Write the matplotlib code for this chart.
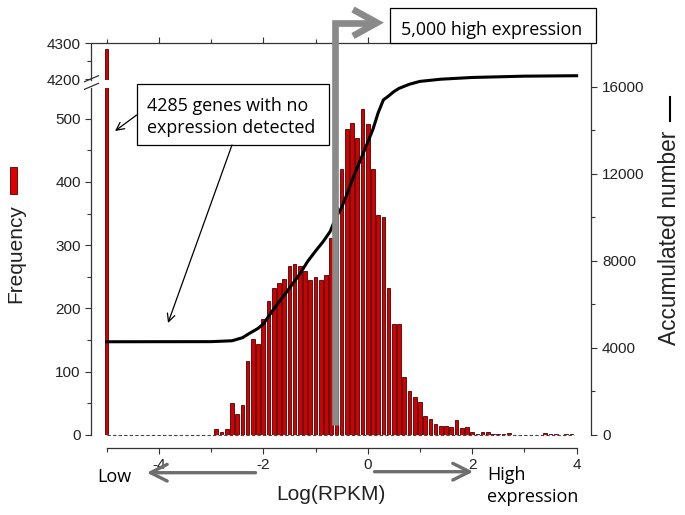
import numpy as np
import matplotlib
matplotlib.use('Agg')
import matplotlib.pyplot as plt
from matplotlib.lines import Line2D
from matplotlib.patches import Rectangle, FancyArrowPatch

plt.rcParams['font.family'] = 'Liberation Sans'
plt.rcParams['axes.unicode_minus'] = False

# histogram of log(RPKM), 0.1 wide bins from -2.9 to 3.9
bin_centers = np.round(np.arange(-2.9, 3.95, 0.1), 1)
freq = [9, 5, 10, 51, 33, 47, 117, 151, 144, 183,
        212, 233, 240, 246, 267, 271, 267, 260, 245, 249,
        245, 253, 311, 360, 420, 484, 493, 469, 515, 492,
        420, 348, 344, 232, 176, 175, 92, 70, 60, 52,
        30, 25, 18, 15, 15, 13, 24, 11, 12, 5,
        2, 4, 4, 1, 1, 1, 3, 0, 0, 0,
        0, 0, 0, 3, 1, 1, 0, 2, 1]

# genes with no expression, parked at the left end
no_expr_x = -5.0
no_expr_count = 4285

# accumulated number of genes (right axis)
cum_x = [-5.0, -3.0, -2.6, -2.4, -2.3, -2.1, -2.0, -1.9, -1.75, -1.6,
         -1.5, -1.3, -1.15, -1.0, -0.85, -0.72, -0.6, -0.5, -0.4, -0.3,
         -0.2, -0.1, 0.0, 0.1, 0.2, 0.3, 0.4, 0.5, 0.6, 0.8,
         1.0, 1.4, 2.0, 3.0, 4.0]
cum_n = [4285, 4290, 4330, 4470, 4620, 4900, 5100, 5450, 5950, 6420,
         6750, 7400, 7980, 8450, 8900, 9350, 10050, 10450, 11050, 11700,
         12290, 12870, 13450, 14050, 14810, 15400, 15580, 15780, 15930, 16120,
         16250, 16350, 16430, 16490, 16510]

RED = '#d00000'
EDGE = '#4a0000'
GREY = '#8a8a8a'
DARK = '#222222'

W, H = 685, 515


def fx(x):
    return x / W


def fy(y):
    return 1 - y / H


fig = plt.figure(figsize=(W / 100, H / 100), dpi=100)

L, R = 91.5, 590.7
xlim = (-5.29, 4.27)
ax = fig.add_axes([fx(L), fy(435), (R - L) / W, (435 - 88.3) / H])
ax_top = fig.add_axes([fx(L), fy(80), (R - L) / W, (80 - 43.3) / H])
ax_r = fig.add_axes([fx(L), fy(435), (R - L) / W, (435 - 43.3) / H])

for a in (ax, ax_top, ax_r):
    a.set_xlim(*xlim)
    a.patch.set_visible(False)
    for s in a.spines.values():
        s.set_linewidth(0.9)
        s.set_color('#333333')
    a.tick_params(which='both', direction='out', width=0.8, colors='#333333',
                  labelcolor=DARK, labelsize=11)
    a.tick_params(which='major', length=4.2)
    a.tick_params(which='minor', length=2.6)

# bars
ax.plot([-5, 3.95], [0, 0], color='#444444', lw=0.8, ls=(0, (3, 2)),
        clip_on=False, zorder=1)
ax.bar(bin_centers, freq, width=0.07, color=RED, edgecolor=EDGE, lw=0.6, zorder=2)
for a in (ax, ax_top):
    a.bar([no_expr_x], [no_expr_count], width=0.065, color=RED,
          edgecolor=EDGE, lw=0.6, zorder=2)

# lower left axis
ax.set_ylim(0, 548)
ax.spines[['top', 'right']].set_visible(False)
ax.spines['bottom'].set_position(('outward', 9.1))
ax.spines['bottom'].set_bounds(-5, 4)
ax.set_yticks(np.arange(0, 501, 100))
ax.set_yticks(np.arange(50, 548, 100), minor=True)
ax.set_xticks([-4, -2, 0, 2, 4])
ax.set_xticklabels(['-4', '-2', '0', '2', '4'])
ax.set_xticks([-5, -3, -1, 1, 3], minor=True)
ax.tick_params(axis='x', which='major', pad=3)
ax.tick_params(axis='y', pad=3.5)

# upper left axis (after the break)
ax_top.set_ylim(4198, 4300)
ax_top.spines[['bottom', 'right']].set_visible(False)
ax_top.xaxis.tick_top()
ax_top.tick_params(axis='x', labeltop=False)
ax_top.set_xticks([-4, -2, 0, 2, 4])
ax_top.set_xticks([-5, -3, -1, 1, 3], minor=True)
ax_top.set_yticks([4200, 4300])
ax_top.set_yticks([4250], minor=True)
ax_top.tick_params(axis='y', pad=3.5)

# right axis, accumulated number
ax_r.plot(cum_x, cum_n, color='black', lw=2.2, solid_joinstyle='round', zorder=3)
ax_r.set_ylim(0, 18000)
ax_r.spines[['left', 'top', 'bottom']].set_visible(False)
ax_r.xaxis.set_visible(False)
ax_r.yaxis.tick_right()
ax_r.set_yticks(np.arange(0, 16001, 4000))
ax_r.set_yticks(np.arange(2000, 18000, 4000), minor=True)
ax_r.tick_params(axis='y', pad=4)

# axis break marks
for y0 in (81.7, 89.3):
    fig.add_artist(Line2D([fx(84.5), fx(98.5)], [fy(y0), fy(y0 - 6)],
                          transform=fig.transFigure, color='#333333', lw=0.9))

# axis titles and legend keys
fig.text(fx(15.5), fy(254), 'Frequency', rotation=90, ha='center', va='center',
         fontsize=15, color=DARK)
fig.add_artist(Rectangle((fx(10), fy(194.3)), (17.3 - 10) / W, (194.3 - 166.7) / H,
                         transform=fig.transFigure, fc='#e00000', ec=EDGE, lw=0.6))
fig.text(fx(669), fy(238), 'Accumulated number', rotation=90, ha='center',
         va='center', fontsize=16.3, color=DARK)
fig.add_artist(Line2D([fx(670), fx(670)], [fy(96.7), fy(120.7)],
                      transform=fig.transFigure, color='black', lw=1.5))
fig.text(fx(331), fy(494), 'Log(RPKM)', ha='center', va='center', fontsize=15,
         color=DARK)

# bottom hints
fig.text(fx(97), fy(481.5), 'Low', ha='left', va='baseline', fontsize=13,
         family='Open Sans', color='black')
fig.text(fx(487), fy(480), 'High', ha='left', va='baseline', fontsize=13,
         family='Open Sans', color='black')
fig.text(fx(487), fy(502.5), 'expression', ha='left', va='baseline', fontsize=13,
         family='Open Sans', color='black')
for xa, xb, yy in ((258.3, 144, 472.7), (371.7, 476, 471.7)):
    fig.add_artist(FancyArrowPatch((fx(xa), fy(yy)), (fx(xb), fy(yy)),
                                   transform=fig.transFigure,
                                   arrowstyle='->,head_length=0.6,head_width=0.3',
                                   mutation_scale=20, lw=2.4, color='#6e6e6e'))

# grey cutoff arrow for the 5,000 most expressed genes
fig.add_artist(Line2D([fx(335), fx(335), fx(376)], [fy(425), fy(22.7), fy(22.7)],
                      transform=fig.transFigure, color=GREY, lw=4.8,
                      solid_joinstyle='miter', solid_capstyle='butt'))
fig.add_artist(Line2D([fx(353), fx(377), fx(353)], [fy(9.5), fy(22.7), fy(36)],
                      transform=fig.transFigure, color=GREY, lw=4.8,
                      solid_joinstyle='miter', solid_capstyle='butt'))

# annotation boxes
fig.add_artist(Rectangle((fx(390), fy(43.3)), (596 - 390) / W, (43.3 - 8.3) / H,
                         transform=fig.transFigure, fc='white', ec='black', lw=0.9))
fig.text(fx(400.7), fy(35), '5,000 high expression', ha='left', va='baseline',
         fontsize=12.9, family='Open Sans', color='black')

fig.add_artist(Rectangle((fx(136.7), fy(145)), (329.3 - 136.7) / W, (145 - 84) / H,
                         transform=fig.transFigure, fc='white', ec='black', lw=0.9))
fig.text(fx(146.7), fy(111), '4285 genes with no', ha='left', va='baseline',
         fontsize=12.9, family='Open Sans', color='black')
fig.text(fx(146.7), fy(133.3), 'expression detected', ha='left', va='baseline',
         fontsize=12.9, family='Open Sans', color='black')
for (xa, ya), (xb, yb) in (((136.7, 115), (115, 131)), ((232, 145), (168, 323))):
    fig.add_artist(FancyArrowPatch((fx(xa), fy(ya)), (fx(xb), fy(yb)),
                                   transform=fig.transFigure, arrowstyle='->',
                                   mutation_scale=14, lw=0.9, color='black',
                                   shrinkA=0, shrinkB=0))

fig.savefig('out.png', dpi=100)
